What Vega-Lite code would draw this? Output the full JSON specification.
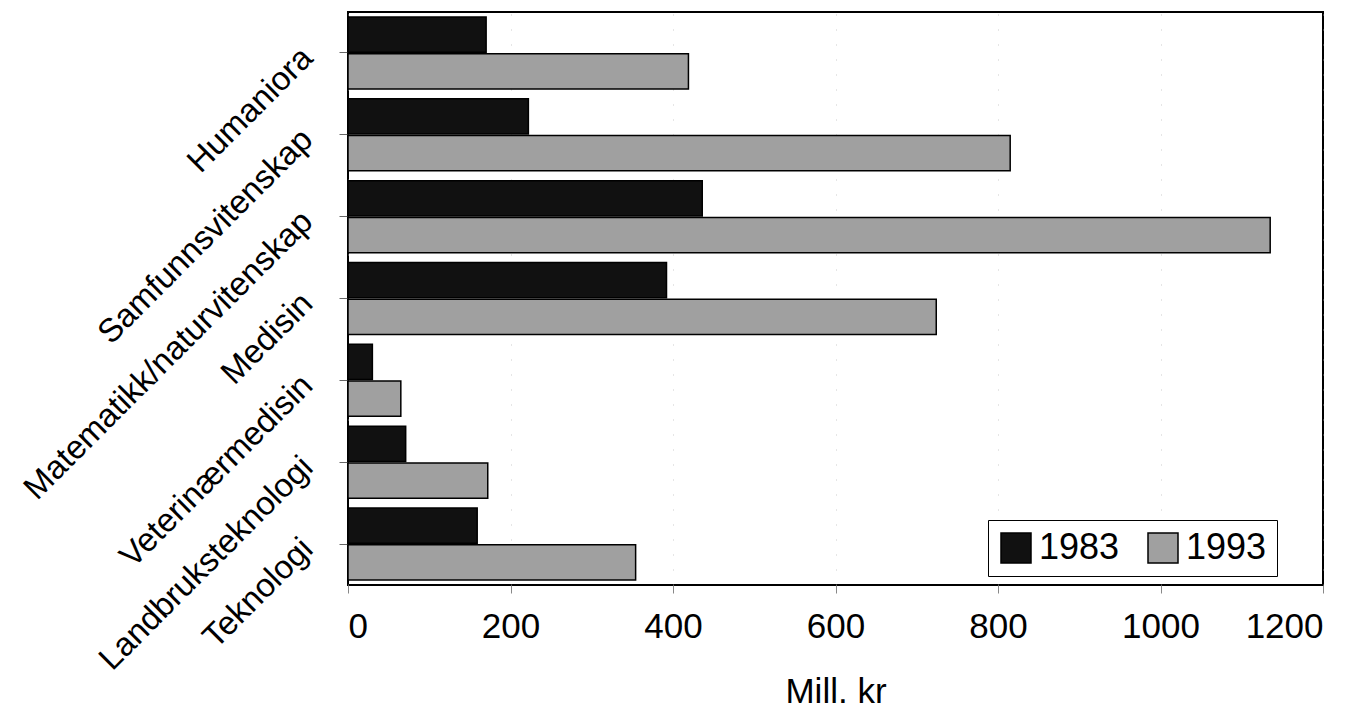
{
  "$schema": "https://vega.github.io/schema/vega-lite/v6.json",
  "width": 975,
  "height": 573,
  "autosize": {"type": "none"},
  "padding": {"left": 348, "top": 12, "right": 46, "bottom": 129},
  "background": "white",
  "config": {
    "font": "Liberation Sans",
    "view": {"stroke": "black", "strokeWidth": 2}
  },
  "data": {
    "values": [
      {"field": "Humaniora", "year": "1983", "value": 170},
      {"field": "Humaniora", "year": "1993", "value": 419},
      {"field": "Samfunnsvitenskap", "year": "1983", "value": 222},
      {"field": "Samfunnsvitenskap", "year": "1993", "value": 815},
      {"field": "Matematikk/naturvitenskap", "year": "1983", "value": 436},
      {"field": "Matematikk/naturvitenskap", "year": "1993", "value": 1135},
      {"field": "Medisin", "year": "1983", "value": 392},
      {"field": "Medisin", "year": "1993", "value": 724},
      {"field": "Veterinærmedisin", "year": "1983", "value": 30},
      {"field": "Veterinærmedisin", "year": "1993", "value": 65},
      {"field": "Landbruksteknologi", "year": "1983", "value": 71},
      {"field": "Landbruksteknologi", "year": "1993", "value": 172},
      {"field": "Teknologi", "year": "1983", "value": 159},
      {"field": "Teknologi", "year": "1993", "value": 354}
    ]
  },
  "mark": {"type": "bar", "stroke": "black", "strokeWidth": 1.5},
  "encoding": {
    "y": {
      "field": "field",
      "type": "nominal",
      "sort": ["Humaniora", "Samfunnsvitenskap", "Matematikk/naturvitenskap", "Medisin", "Veterinærmedisin", "Landbruksteknologi", "Teknologi"],
      "scale": {"paddingInner": 0.12, "paddingOuter": 0.06},
      "axis": {
        "title": null,
        "labelAngle": -45,
        "labelFontSize": 33,
        "labelColor": "black",
        "domain": false,
        "tickColor": "#666",
        "tickSize": 9,
        "labelPadding": 32,
        "labelLimit": 0
      }
    },
    "yOffset": {
      "field": "year",
      "type": "nominal",
      "scale": {"domain": ["1983", "1993"], "paddingInner": 0.04}
    },
    "x": {
      "field": "value",
      "type": "quantitative",
      "scale": {"domain": [0, 1200], "nice": false},
      "axis": {
        "values": [0, 200, 400, 600, 800, 1000, 1200],
        "format": "d",
        "title": "Mill. kr",
        "titleFontSize": 35,
        "titleFontWeight": "normal",
        "titleColor": "black",
        "titlePadding": 30,
        "labelFontSize": 35,
        "labelColor": "black",
        "labelPadding": 16,
        "domain": false,
        "tickColor": "#888",
        "tickSize": 8,
        "grid": true,
        "gridColor": "#aaaaaa",
        "gridDash": [1, 14],
        "gridOpacity": 0.6
      }
    },
    "color": {
      "field": "year",
      "type": "nominal",
      "scale": {"domain": ["1983", "1993"], "range": ["#111111", "#a0a0a0"]},
      "legend": {
        "title": null,
        "orient": "none",
        "legendX": 640,
        "legendY": 508,
        "direction": "horizontal",
        "strokeColor": "black",
        "fillColor": "white",
        "padding": 10,
        "symbolType": "square",
        "symbolSize": 900,
        "symbolStrokeColor": "black",
        "symbolStrokeWidth": 1.5,
        "symbolOpacity": 1,
        "labelFontSize": 36,
        "labelColor": "black",
        "labelOffset": 5,
        "columnPadding": 25
      }
    }
  }
}
